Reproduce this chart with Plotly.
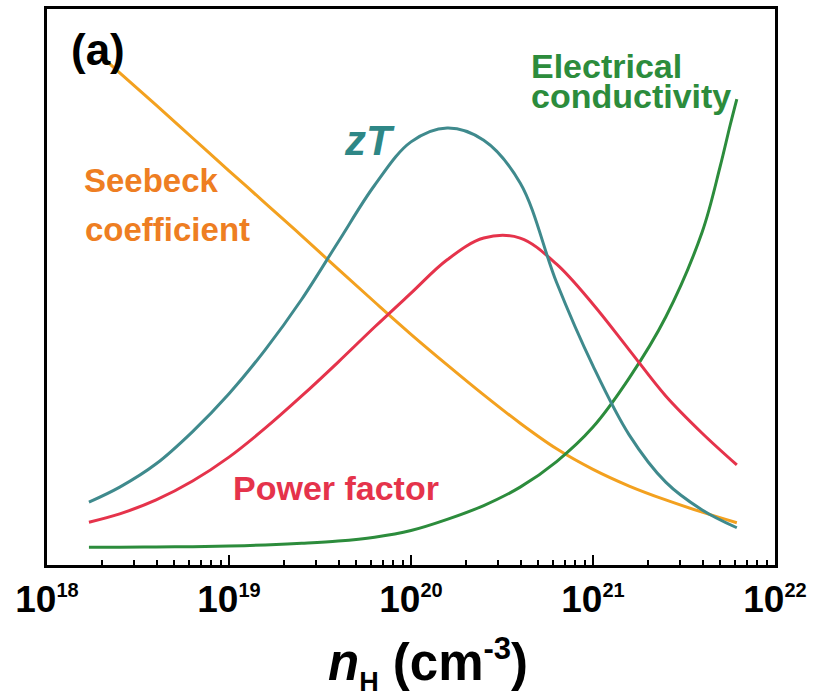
import plotly.graph_objects as go

# ---- data (arbitrary units) ----
n_grid = [1.70e18, 2.51e18, 3.98e18, 6.31e18, 1.00e19, 1.58e19, 2.51e19, 3.98e19, 6.31e19,
          1.00e20, 1.58e20, 2.51e20, 3.98e20, 6.31e20, 1.00e21, 1.58e21, 2.51e21, 3.98e21, 6.17e21]

zt_v = [11.3, 14.0, 18.2, 24.0, 30.8, 38.7, 47.8, 58.1, 68.3,
        76.1, 78.6, 76.4, 68.7, 50.8, 35.8, 23.4, 14.9, 9.9, 6.7]

pf_v = [7.7, 9.2, 11.7, 15.1, 19.4, 24.6, 30.4, 36.5, 42.8,
        48.9, 54.9, 58.8, 58.8, 54.1, 46.9, 38.7, 30.4, 23.7, 18.0]

s_n = [1.96e18] + n_grid[1:]
s_v = [91.7, 88.5, 82.7, 76.8, 70.9, 65.1, 59.2, 53.2, 47.3,
       41.5, 36.0, 30.6, 25.5, 20.9, 17.2, 14.2, 11.7, 9.5, 7.6]

sig_n = n_grid[:-1] + [4.99e21, 5.66e21, 6.17e21]
sig_v = [3.2, 3.2, 3.25, 3.3, 3.4, 3.6, 3.9, 4.3, 5.0,
         6.2, 8.2, 10.7, 14.0, 18.6, 24.8, 33.6, 44.6, 59.9, 71.6, 79.0, 83.8]

tick_vals = [1e18, 1e19, 1e20, 1e21, 1e22]
tick_exps = ["18", "19", "20", "21", "22"]
minor_vals = [float(m) * 10.0 ** e for e in range(18, 22) for m in range(2, 10)]

C_TEAL = "#3F8A8D"
C_RED = "#E5334B"
C_ORANGE = "#F3A11F"
C_GREEN = "#2C8C3C"
FONT = "Liberation Sans, Arial, sans-serif"

fig = go.Figure()
for xs, ys, col in [(s_n, s_v, C_ORANGE), (sig_n, sig_v, C_GREEN),
                    (n_grid, pf_v, C_RED), (n_grid, zt_v, C_TEAL)]:
    fig.add_trace(go.Scatter(x=xs, y=ys, mode="lines",
                             line=dict(color=col, width=3, shape="spline", smoothing=1.0),
                             showlegend=False, hoverinfo="skip"))

ticktext = ["10<sup><span style='font-size:20px'>%s</span></sup>" % e for e in tick_exps]

fig.update_xaxes(type="log", range=[18, 22], tickmode="array", tickvals=tick_vals,
                 ticktext=ticktext, ticks="inside", ticklen=10, tickwidth=2, tickcolor="black",
                 minor=dict(tickvals=minor_vals, ticks="inside", ticklen=5, tickwidth=2,
                            tickcolor="black", showgrid=False),
                 showline=True, linewidth=2.5, linecolor="black", mirror=True,
                 showgrid=False, zeroline=False,
                 tickfont=dict(family=FONT, size=37, color="black", weight="bold"))
fig.update_yaxes(range=[0, 100], showticklabels=False, ticks="", showline=True,
                 linewidth=2.5, linecolor="black", mirror=True, showgrid=False, zeroline=False)

def ann(text, px, py, color, size, xanchor="center", italic=False):
    fig.add_annotation(text=text, xref="paper", yref="paper",
                       x=(px - 47) / 728, y=(565 - py) / 556,
                       xanchor=xanchor, yanchor="middle", showarrow=False,
                       font=dict(family=FONT, size=size, color=color, weight="bold",
                                 style="italic" if italic else "normal"))

ann("(a)", 98, 50, "black", 44)
ann("zT", 369, 140, "#2E8786", 42, italic=True)
ann("Seebeck", 82, 181, "#EE7E22", 33, xanchor="left")
ann("coefficient", 83, 229, "#EE7E22", 33, xanchor="left")
ann("Electrical", 529, 66, "#2C8C3C", 34, xanchor="left")
ann("conductivity", 529, 96, "#2C8C3C", 34, xanchor="left")
ann("Power factor", 231, 488, C_RED, 34, xanchor="left")
ann("<i>n</i><sub><span style='font-size:27px'>H</span></sub> (cm<sup><span style='font-size:31px'>-3</span></sup>)",
    428, 664, "black", 51)

fig.update_layout(width=816, height=696, margin=dict(l=47, r=41, t=9, b=131, autoexpand=False),
                  paper_bgcolor="white", plot_bgcolor="white",
                  font=dict(family=FONT))

fig.write_html("out.html", config={"displayModeBar": False},
               post_script="document.body.style.margin='0px';")
